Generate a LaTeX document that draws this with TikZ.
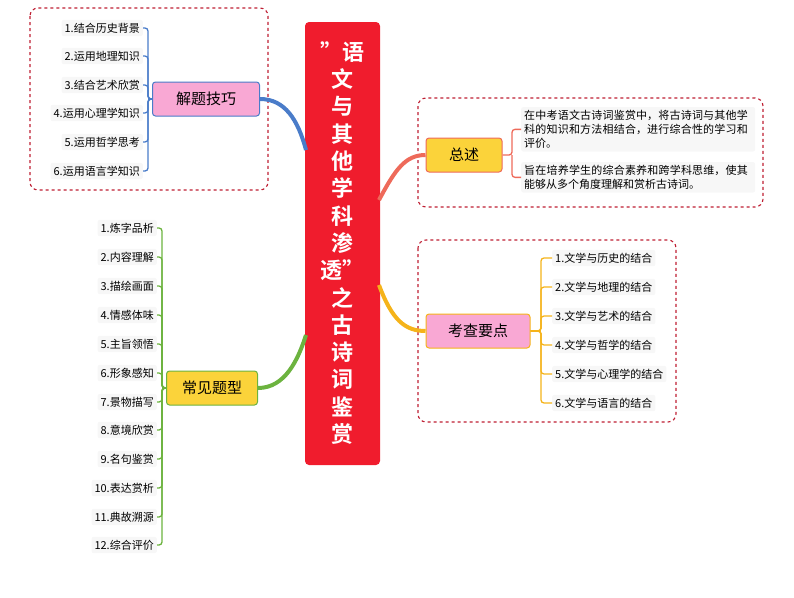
\documentclass[tikz,border=0pt]{standalone}
\usepackage{fontspec}
\setmainfont{Noto Sans CJK SC}[BoldFont={Noto Sans CJK SC Bold}]
\XeTeXlinebreaklocale "zh"
\XeTeXlinebreakskip=0pt plus 1pt
\begin{document}
\begin{tikzpicture}[x=1pt,y=-1pt,
 item/.style={fill=gray!6,rounded corners=2pt,font=\fontsize{11}{13}\selectfont,inner sep=3pt},
 grp/.style={draw={rgb,255:red,190;green,30;blue,50},dashed,line width=1.1pt,rounded corners=8pt},
 topic/.style={rounded corners=3pt,line width=1pt,font=\fontsize{15}{17}\selectfont,minimum height=34pt}]
\useasboundingbox (0,0) rectangle (794,597);
\definecolor{cblue}{HTML}{4A7CC9}\definecolor{cgreen}{HTML}{6CB33F}
\definecolor{cred}{HTML}{EE6A5A}\definecolor{corange}{HTML}{F5B31A}
\definecolor{cpink}{HTML}{F9A8D4}\definecolor{cyel}{HTML}{FBD33A}
% center
\node[fill={rgb,255:red,240;green,28;blue,45},rounded corners=4pt,minimum width=75pt,minimum height=443pt] (c) at (342.5,243.5) {};
\node[text=white,font=\fontsize{22}{27.3}\selectfont\bfseries,align=center] (ct) at (342.5,243) {"语\\文\\与\\其\\他\\学\\科\\渗\\透"\\之\\古\\诗\\词\\鉴\\赏};
% groups
\draw[grp] (30,8) rectangle (268,190);
\draw[grp] (418,98) rectangle (763,207);
\draw[grp] (418,240) rectangle (676,422);
% topics
\node[topic,draw=cblue,fill=cpink,minimum width=107pt] (t1) at (206,99) {解题技巧};
\node[topic,draw=cgreen,fill=cyel,minimum width=91pt] (t2) at (212,388) {常见题型};
\node[topic,draw=cred,fill=cyel,minimum width=76pt] (t3) at (464,155) {总述};
\node[topic,draw=corange,fill=cpink,minimum width=104pt] (t4) at (478,331) {考查要点};
% main connectors
\coordinate (c1) at (306,150); \coordinate (c2) at (306,335);
\coordinate (c3) at (379,200); \coordinate (c4) at (379,285);
\draw[cblue,line width=4pt] (t1.east) .. controls (285,99) and (298,120) .. (c1);
\draw[cgreen,line width=4pt] (t2.east) .. controls (285,388) and (298,360) .. (c2);
\draw[cred,line width=4pt] (c3) .. controls (395,170) and (405,155) .. (t3.west);
\draw[corange,line width=4pt] (c4) .. controls (392,320) and (405,331) .. (t4.west);
% left items 1
\foreach \i/\t/\y in {1/1.结合历史背景/28,2/2.运用地理知识/56,3/3.结合艺术欣赏/85,4/4.运用心理学知识/113,5/5.运用哲学思考/142,6/6.运用语言学知识/171}{
 \node[item,anchor=east] (a\i) at (143,\y) {\t};
 \draw[cblue,line width=1.3pt,rounded corners=3pt] (a\i.east) -- (148,\y) -- (148,99) -- (t1.west);}
\foreach \i/\t/\y in {1/1.炼字品析/228,2/2.内容理解/257,3/3.描绘画面/286,4/4.情感体味/315,5/5.主旨领悟/344,6/6.形象感知/373,7/7.景物描写/402,8/8.意境欣赏/430,9/9.名句鉴赏/459,10/10.表达赏析/488,11/11.典故溯源/517,12/12.综合评价/545}{
 \node[item,anchor=east] (b\i) at (157,\y) {\t};
 \draw[cgreen,line width=1.3pt,rounded corners=3pt] (b\i.east) -- (162,\y) -- (162,388) -- (t2.west);}
% summary texts
\node[item,anchor=north west,text width=228pt,align=left,font=\fontsize{11}{14}\selectfont] (s1) at (521,107) {在中考语文古诗词鉴赏中，将古诗词与其他学科的知识和方法相结合，进行综合性的学习和评价。};
\node[item,anchor=north west,text width=228pt,align=left,font=\fontsize{11}{14}\selectfont] (s2) at (521,162) {旨在培养学生的综合素养和跨学科思维，使其能够从多个角度理解和赏析古诗词。};
\draw[cred,line width=1.3pt,rounded corners=3pt] (t3.east) -- (512,155) |- (s1.west);
\draw[cred,line width=1.3pt,rounded corners=3pt] (512,155) |- (s2.west);
\foreach \i/\t/\y in {1/1.文学与历史的结合/258,2/2.文学与地理的结合/287,3/3.文学与艺术的结合/316,4/4.文学与哲学的结合/345,5/5.文学与心理学的结合/374,6/6.文学与语言的结合/403}{
 \node[item,anchor=west] (d\i) at (552,\y) {\t};
 \draw[corange,line width=1.3pt,rounded corners=3pt] (t4.east) -- (541,331) -- (541,\y) -- (d\i.west);}
\end{tikzpicture}
\end{document}
